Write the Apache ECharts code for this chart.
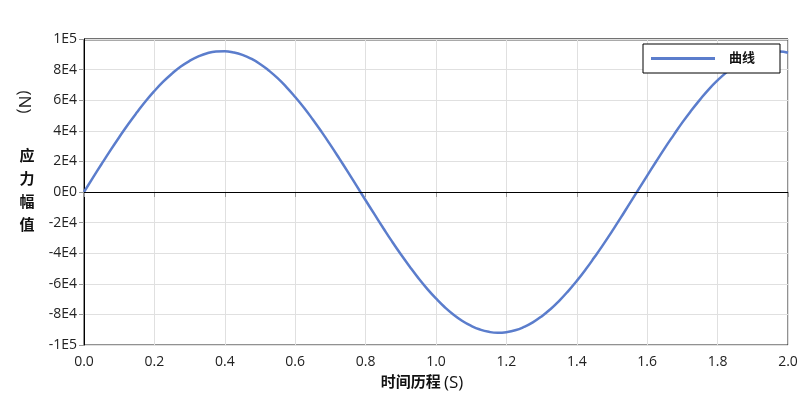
<!DOCTYPE html>
<html><head><meta charset="utf-8">
<script src="https://cdn.jsdelivr.net/npm/echarts@6/dist/echarts.min.js"></script>
<style>html,body{margin:0;padding:0;background:#fff}#c{width:808px;height:413px}</style>
</head><body><div id="c"></div>
<script>
var seriesName = '曲线';
var times = [0,0.025,0.05,0.075,0.1,0.125,0.15,0.175,0.2,0.225,0.25,0.275,0.3,0.325,0.35,0.375,0.4,0.425,0.45,0.475,
  0.5,0.525,0.55,0.575,0.6,0.625,0.65,0.675,0.7,0.725,0.75,0.775,0.8,0.825,0.85,0.875,0.9,0.925,0.95,0.975,
  1.0,1.025,1.05,1.075,1.1,1.125,1.15,1.175,1.2,1.225,1.25,1.275,1.3,1.325,1.35,1.375,1.4,1.425,1.45,1.475,
  1.5,1.525,1.55,1.575,1.6,1.625,1.65,1.675,1.7,1.725,1.75,1.775,1.8,1.825,1.85,1.875,1.9,1.925,1.95,1.975,2.0];
var stress = [0,9200,18300,27200,35800,44100,51900,59300,66000,72100,77400,82000,85700,88600,90700,91800,92000,91200,89600,87100,
  83700,79400,74400,68600,62100,55100,47400,39300,30800,22000,13000,3800,-5400,-14500,-23500,-32300,-40700,-48700,-56300,-63300,
  -69600,-75300,-80200,-84300,-87500,-89900,-91400,-92000,-91600,-90400,-88200,-85200,-81300,-76600,-71100,-64900,-58100,-50700,-42700,-34400,
  -25700,-16800,-7600,1500,10700,19800,28700,37200,45500,53200,60400,67100,73000,78200,82700,86300,89000,90900,91900,91900,91000];
var yTickValues = [-100000,-80000,-60000,-40000,-20000,0,20000,40000,60000,80000,100000];
var yTickLabels = ['-1E5','-8E4','-6E4','-4E4','-2E4','0E0','2E4','4E4','6E4','8E4','1E5'];
var xTickLabels = ['0.0','0.2','0.4','0.6','0.8','1.0','1.2','1.4','1.6','1.8','2.0'];
var xNameMain = '时间历程';
var xNameUnit = '(S)';
var yNameChars = '应力幅值';
var yNameUnit = '(N)';

var data = times.map(function(t,i){return [t, stress[i]];});
var font = '"Open Sans","Noto Sans CJK SC",sans-serif';
var chart = echarts.init(document.getElementById('c'));
chart.setOption({
  animation:false,
  backgroundColor:'#fff',
  grid:{left:84,right:20,top:39,bottom:68,show:true,borderColor:'#222',borderWidth:1},
  legend:{right:28,top:44,padding:[8,25,8,8],itemWidth:64,itemHeight:3,icon:'rect',
    borderColor:'#000',borderWidth:1,backgroundColor:'#fff',
    textStyle:{fontFamily:font,fontSize:13,fontWeight:'bold',color:'#111',padding:[0,0,0,9]},
    data:[seriesName]},
  xAxis:{type:'value',min:0,max:2,interval:0.2,
    axisLine:{show:true,lineStyle:{color:'#000'}},
    axisTick:{show:true,length:5,lineStyle:{color:'#999'}},
    axisLabel:{fontFamily:font,fontSize:14,color:'#222',margin:10,
      formatter:function(v){var i=Math.round(v/0.2);return xTickLabels[i]||'';}},
    splitLine:{show:true,lineStyle:{color:'#e0e0e0'}}},
  yAxis:{type:'value',min:-100000,max:100000,interval:20000,
    axisLine:{show:true,lineStyle:{color:'#000'}},
    axisTick:{show:true,length:5,lineStyle:{color:'#999'}},
    axisLabel:{fontFamily:font,fontSize:14,color:'#222',margin:7,
      formatter:function(v){var i=yTickValues.indexOf(Math.round(v));return i>=0?yTickLabels[i]:'';}},
    splitLine:{show:true,lineStyle:{color:'#e0e0e0'}}},
  graphic:[
    {type:'line',shape:{x1:84,y1:39.5,x2:788,y2:39.5},style:{stroke:'#555',lineWidth:2}},
    {type:'text',x:24,y:102,rotation:-Math.PI/2,style:{text:yNameUnit,font:'17px '+font,fill:'#222',textAlign:'center',textVerticalAlign:'middle'}},
    {type:'text',x:27,y:191,style:{text:yNameChars.split('').join('\n'),font:'bold 15px '+font,lineHeight:23,fill:'#111',textAlign:'center',textVerticalAlign:'middle'}},
    {type:'text',x:422,y:383,style:{text:'{a|'+xNameMain+'} {b|'+xNameUnit+'}',textAlign:'center',textVerticalAlign:'middle',
      rich:{a:{font:'bold 15px '+font,fill:'#111'},b:{font:'17px '+font,fill:'#111'}}}}
  ],
  series:[{name:seriesName,type:'line',smooth:true,symbol:'none',data:data,
    lineStyle:{color:'#5b7dcc',width:2.5},itemStyle:{color:'#5b7dcc'},
    markLine:{silent:true,symbol:'none',label:{show:false},lineStyle:{color:'#000',width:1,type:'solid'},data:[{yAxis:0}]}}]
});
</script></body></html>
